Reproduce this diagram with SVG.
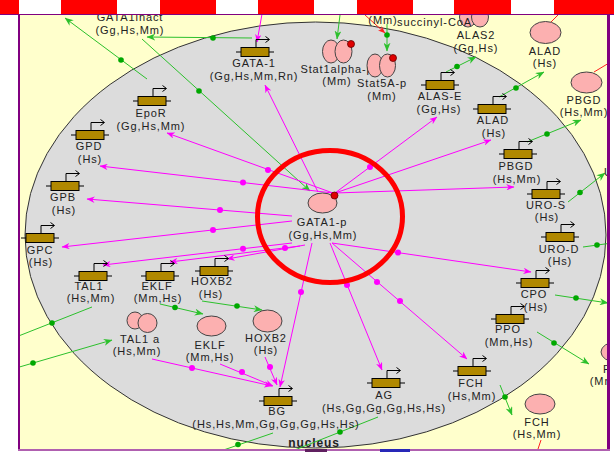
<svg xmlns="http://www.w3.org/2000/svg" width="614" height="452" viewBox="0 0 614 452">
  <defs>
    <style>
      .t { font-family: "Liberation Sans", Arial, sans-serif; font-size: 11px; letter-spacing: 0.9px; fill: #222; text-anchor: middle; }
      .ts { text-anchor: start; }
      .nuc { font-family: "Liberation Sans", Arial, sans-serif; font-size: 12px; font-weight: bold; letter-spacing: 0.9px; fill: #222; text-anchor: middle; }
      .mg { stroke: #FF00FF; stroke-width: 1; fill: none; marker-end: url(#am); }
      .gr { stroke: #2CC02C; stroke-width: 1; fill: none; marker-end: url(#ag); }
      .grn { stroke: #2CC02C; stroke-width: 1; fill: none; }
      .rd { stroke: #FF2020; stroke-width: 1; fill: none; }
      .dm { fill: #FF00FF; }
      .dg { fill: #00A800; }
      .p { fill: #FCB0B0; stroke: #444; stroke-width: 1; }
      .pd { fill: #E00000; stroke: #600; stroke-width: 0.8; }
    </style>
    <marker id="am" viewBox="0 0 10 8" refX="9.5" refY="4" markerWidth="8.5" markerHeight="6.5" markerUnits="userSpaceOnUse" orient="auto">
      <path d="M0,0 L10,4 L0,8 L3,4 z" fill="#FF00FF"/>
    </marker>
    <marker id="ag" viewBox="0 0 10 8" refX="9.5" refY="4" markerWidth="9" markerHeight="7" markerUnits="userSpaceOnUse" orient="auto">
      <path d="M0,0 L10,4 L0,8 L3,4 z" fill="#2CC02C"/>
    </marker>
    <marker id="ar" viewBox="0 0 10 8" refX="9.5" refY="4" markerWidth="8" markerHeight="6" markerUnits="userSpaceOnUse" orient="auto">
      <path d="M0,0 L10,4 L0,8 L3,4 z" fill="#FF2020"/>
    </marker>
    <!-- gene glyph: coding box with stubs and a bent transcription-start arrow -->
    <g id="gene">
      <line x1="-19" y1="0" x2="19" y2="0" stroke="#000" stroke-width="1"/>
      <rect x="-14" y="-4.5" width="28" height="9" fill="#B08800" stroke="#000" stroke-width="1"/>
      <path d="M1,-4.5 V-12.5 H14" fill="none" stroke="#000" stroke-width="1"/>
      <path d="M10.5,-15.5 L14.5,-12.5 L10.5,-9.5" fill="none" stroke="#000" stroke-width="1"/>
    </g>
  </defs>

  <!-- canvas -->
  <rect x="0" y="0" width="614" height="452" fill="#fff"/>
  <rect x="19" y="14" width="590" height="436" fill="#FFFFCC"/>

  <!-- nucleus compartment -->
  <g id="nucleus">
    <ellipse cx="315.5" cy="235" rx="290.5" ry="213" fill="#DCDCDC" stroke="#333" stroke-width="1"/>
    <text class="nuc" x="314" y="447">nucleus</text>
  </g>

  <!-- connectors -->
  <g id="connectors">
    <!-- production (green) -->
    <path class="gr" d="M147,79 L65,18"/>
    <circle class="dg" cx="121" cy="60" r="2.8"/>
    <path class="gr" d="M142,39 L310,191"/>
    <circle class="dg" cx="199" cy="91" r="2.8"/>
    <path class="gr" d="M252,38 L147,37"/>
    <circle class="dg" cx="213" cy="38" r="2.8"/>
    <path class="gr" d="M340,15 L337,39"/>
    <path class="gr" d="M387,24 L387,51"/>
    <circle class="dg" cx="387" cy="35" r="2.8"/>
    <path class="gr" d="M446,72 L476,57"/>
    <circle class="dg" cx="457" cy="66.5" r="2.8"/>
    <path class="gr" d="M499,97 L544,72"/>
    <circle class="dg" cx="516" cy="88" r="2.8"/>
    <path class="gr" d="M527,142 L581,120"/>
    <circle class="dg" cx="547" cy="134" r="2.8"/>
    <path class="gr" d="M568,202 L605,173"/>
    <circle class="dg" cx="580" cy="192.5" r="2.8"/>
    <path class="grn" d="M583,247 L612,243"/>
    <circle class="dg" cx="597" cy="245" r="2.8"/>
    <path class="gr" d="M555,295 L608,303"/>
    <circle class="dg" cx="576" cy="298" r="2.8"/>
    <path class="gr" d="M537,332 L589,364"/>
    <circle class="dg" cx="554" cy="343" r="2.8"/>
    <path class="gr" d="M500,385 L512,415"/>
    <circle class="dg" cx="505" cy="397" r="2.8"/>
    <path class="gr" d="M160,304 L203,314"/>
    <circle class="dg" cx="175" cy="307.5" r="2.8"/>
    <path class="gr" d="M202,301 L262,310"/>
    <circle class="dg" cx="237" cy="306" r="2.8"/>
    <path class="grn" d="M92,307 L16,337"/>
    <circle class="dg" cx="52" cy="323" r="2.8"/>
    <path class="gr" d="M16,368 L112,340"/>
    <circle class="dg" cx="33" cy="363" r="2.8"/>
    <path class="grn" d="M273,433 L209,455"/>
    <circle class="dg" cx="238" cy="444.5" r="2.8"/>
    <path class="grn" d="M378,417 L282,455"/>
    <circle class="dg" cx="340" cy="432" r="2.8"/>

    <!-- regulation (red) -->
    <path class="rd" marker-end="url(#ar)" d="M365,15 L385,33"/>
    <path class="rd" d="M551,22 L559,14"/>
    <path class="rd" d="M594,72 L609,63"/>
    <path class="rd" d="M541,440 L537,452"/>

    <!-- transcriptional activation (magenta) -->
    <path class="mg" d="M318,192 L265,85"/>
    <path class="mg" d="M262,14 L257,42"/>
    <path class="mg" d="M333,193 L167,133"/>
    <circle class="dm" cx="268" cy="170" r="3"/>
    <path class="mg" d="M333,193 L100,166"/>
    <circle class="dm" cx="243" cy="182.6" r="3"/>
    <path class="mg" d="M292,216 L87,199"/>
    <circle class="dm" cx="220" cy="210" r="3"/>
    <path class="mg" d="M292,221 L62,247"/>
    <circle class="dm" cx="213" cy="230" r="3"/>
    <path class="mg" d="M292,243 L103,265"/>
    <circle class="dm" cx="243" cy="248.7" r="3"/>
    <path class="mg" d="M300,246 L170,262"/>
    <circle class="dm" cx="285" cy="248" r="3"/>
    <path class="mg" d="M305,245 L227,259"/>
    <path class="mg" d="M312,243 L280,387"/>
    <circle class="dm" cx="301" cy="292" r="3"/>
    <path class="mg" d="M330,243 L382,370"/>
    <circle class="dm" cx="347" cy="285" r="3"/>
    <path class="mg" d="M332,243 L467,359"/>
    <circle class="dm" cx="377" cy="282" r="3"/>
    <circle class="dm" cx="400" cy="301" r="3"/>
    <path class="mg" d="M332,243 L531,272"/>
    <circle class="dm" cx="398" cy="252.5" r="3"/>
    <path class="mg" d="M335,193 L514,187"/>
    <path class="mg" d="M335,193 L491,140"/>
    <path class="mg" d="M335,193 L437,117"/>
    <circle class="dm" cx="370" cy="167" r="3"/>
    <path class="mg" d="M152,359 L272,386"/>
    <circle class="dm" cx="192" cy="368" r="3"/>
    <path class="mg" d="M220,364 L273,386"/>
    <circle class="dm" cx="242" cy="372" r="3"/>
    <path class="mg" d="M265,357 L277,385"/>
    <circle class="dm" cx="270" cy="367" r="3"/>
  </g>

  <!-- genes -->
  <g id="gene-GATA-1"><use href="#gene" x="255" y="52"/><text class="t" x="254" y="67">GATA-1</text><text class="t" x="254" y="80">(Gg,Hs,Mm,Rn)</text></g>
  <g id="gene-EpoR"><use href="#gene" x="152" y="101"/><text class="t" x="151" y="117">EpoR</text><text class="t" x="151" y="130">(Gg,Hs,Mm)</text></g>
  <g id="gene-GPD"><use href="#gene" x="90" y="135"/><text class="t" x="89" y="150">GPD</text><text class="t" x="90" y="163">(Hs)</text></g>
  <g id="gene-GPB"><use href="#gene" x="65" y="186"/><text class="t" x="63" y="201">GPB</text><text class="t" x="64" y="214">(Hs)</text></g>
  <g id="gene-GPC"><use href="#gene" x="40" y="238"/><text class="t" x="40" y="254">GPC</text><text class="t" x="41" y="266">(Hs)</text></g>
  <g id="gene-TAL1"><use href="#gene" x="93" y="276"/><text class="t" x="89" y="290">TAL1</text><text class="t" x="91" y="302">(Hs,Mm)</text></g>
  <g id="gene-EKLF"><use href="#gene" x="160" y="276"/><text class="t" x="157" y="290">EKLF</text><text class="t" x="158" y="302">(Mm,Hs)</text></g>
  <g id="gene-HOXB2"><use href="#gene" x="214" y="271"/><text class="t" x="212" y="285">HOXB2</text><text class="t" x="211" y="298">(Hs)</text></g>
  <g id="gene-BG"><use href="#gene" x="278" y="401"/><text class="t" x="277" y="415">BG</text><text class="t" x="276" y="428">(Hs,Hs,Mm,Gg,Gg,Gg,Hs,Hs)</text></g>
  <g id="gene-AG"><use href="#gene" x="386" y="383"/><text class="t" x="384" y="399">AG</text><text class="t" x="384" y="412">(Hs,Gg,Gg,Gg,Hs,Hs)</text></g>
  <g id="gene-FCH"><use href="#gene" x="472" y="371"/><text class="t" x="471" y="387">FCH</text><text class="t" x="472" y="400">(Hs,Mm)</text></g>
  <g id="gene-PPO"><use href="#gene" x="510" y="319"/><text class="t" x="508" y="333">PPO</text><text class="t" x="509" y="346">(Mm,Hs)</text></g>
  <g id="gene-CPO"><use href="#gene" x="535" y="283"/><text class="t" x="534" y="298">CPO</text><text class="t" x="536" y="311">(Hs)</text></g>
  <g id="gene-URO-D"><use href="#gene" x="560" y="237"/><text class="t" x="559" y="253">URO-D</text><text class="t" x="560" y="265">(Hs)</text></g>
  <g id="gene-URO-S"><use href="#gene" x="546" y="194"/><text class="t" x="546" y="209">URO-S</text><text class="t" x="547" y="221">(Hs)</text></g>
  <g id="gene-PBGD"><use href="#gene" x="518" y="154"/><text class="t" x="516" y="170">PBGD</text><text class="t" x="517" y="183">(Hs,Mm)</text></g>
  <g id="gene-ALAD"><use href="#gene" x="492" y="109"/><text class="t" x="493" y="124">ALAD</text><text class="t" x="494" y="137">(Hs)</text></g>
  <g id="gene-ALAS-E"><use href="#gene" x="440" y="85"/><text class="t" x="440" y="100">ALAS-E</text><text class="t" x="439" y="113">(Gg,Hs)</text></g>

  <!-- proteins and metabolites -->
  <g id="GATA1inact"><text class="t" x="130" y="21">GATA1inact</text><text class="t" x="130" y="34">(Gg,Hs,Mm)</text></g>
  <g id="Stat1alpha-p">
    <ellipse class="p" cx="331" cy="51.5" rx="8.5" ry="11.5"/>
    <ellipse class="p" cx="343.5" cy="51.5" rx="8.5" ry="11.5"/>
    <circle class="pd" cx="351" cy="44" r="3.5"/>
    <text class="t" x="337" y="73">Stat1alpha-p</text><text class="t" x="337" y="85">(Mm)</text>
  </g>
  <g id="Stat5A-p">
    <ellipse class="p" cx="375" cy="65.5" rx="8" ry="11.5"/>
    <ellipse class="p" cx="387.5" cy="65.5" rx="8" ry="11.5"/>
    <circle class="pd" cx="393" cy="58" r="3.5"/>
    <text class="t" x="382" y="87">Stat5A-p</text><text class="t" x="382" y="100">(Mm)</text>
  </g>
  <g id="ALAS2">
    <ellipse class="p" cx="468" cy="17" rx="8.5" ry="10"/>
    <ellipse class="p" cx="480" cy="17" rx="8.5" ry="10"/>
    <text class="t" x="476" y="39">ALAS2</text><text class="t" x="476" y="52">(Gg,Hs)</text>
  </g>
  <g id="Mm-label"><text class="t" x="383" y="24">(Mm)</text></g>
  <g id="succinyl-CoA"><text class="t ts" x="397" y="26">succinyl-CoA</text></g>
  <g id="ALAD"><ellipse class="p" cx="545.5" cy="32.5" rx="15.5" ry="11"/><text class="t" x="545" y="55">ALAD</text><text class="t" x="545" y="67">(Hs)</text></g>
  <g id="PBGD"><ellipse class="p" cx="586.5" cy="82.5" rx="15.5" ry="10.5"/><text class="t" x="584" y="104">PBGD</text><text class="t" x="584" y="116">(Hs,Mm)</text></g>
  <g id="URO-S"><text class="t ts" x="604" y="176">URO-S</text></g>
  <g id="PPO"><ellipse class="p" cx="616" cy="352" rx="15" ry="10"/><text class="t" x="616" y="373">PPO</text><text class="t" x="614" y="385">(Mm,Hs)</text></g>
  <g id="FCH"><ellipse class="p" cx="540" cy="404" rx="15" ry="10"/><text class="t" x="537" y="426">FCH</text><text class="t" x="537" y="438">(Hs,Mm)</text></g>
  <g id="EKLF"><ellipse class="p" cx="211.5" cy="326" rx="14.5" ry="10"/><text class="t" x="210" y="349">EKLF</text><text class="t" x="210" y="361">(Mm,Hs)</text></g>
  <g id="HOXB2"><ellipse class="p" cx="267.5" cy="321" rx="14.5" ry="11"/><text class="t" x="266" y="342">HOXB2</text><text class="t" x="266" y="354">(Hs)</text></g>
  <g id="TAL1a">
    <ellipse class="p" cx="135" cy="320.5" rx="8" ry="8.5"/>
    <ellipse class="p" cx="147.5" cy="323" rx="9.5" ry="9.5"/>
    <text class="t" x="140" y="343">TAL1 a</text><text class="t" x="137" y="355">(Hs,Mm)</text>
  </g>
  <g id="GATA1-p">
    <ellipse class="p" cx="322.5" cy="203" rx="14.5" ry="10"/>
    <circle class="pd" cx="334.5" cy="195.5" r="3.5"/>
    <text class="t" x="322" y="226">GATA1-p</text><text class="t" x="323" y="238.5">(Gg,Hs,Mm)</text>
  </g>

  <!-- highlight ring -->
  <ellipse id="highlight" cx="330" cy="216.5" rx="72.5" ry="66" fill="none" stroke="#FF0000" stroke-width="5"/>

  <!-- frame -->
  <g id="frame">
    <rect x="0" y="0" width="19" height="452" fill="#fff"/>
    <rect x="609" y="0" width="5" height="452" fill="#fff"/>
    <rect x="0" y="450" width="614" height="2" fill="#fff"/>
    <rect x="18" y="14" width="2" height="437" fill="#800080"/>
    <rect x="607" y="14" width="3" height="437" fill="#800080"/>
    <rect x="18" y="449" width="592" height="2" fill="#B060B0"/>
    <rect x="305" y="449" width="22" height="3" fill="#602060"/>
    <rect x="380" y="449" width="30" height="3" fill="#2828B8"/>
    <rect x="0" y="13.5" width="614" height="1.5" fill="#800080"/>
    <rect x="0" y="0" width="614" height="14" fill="#FF0000"/>
    <rect x="19" y="0" width="42" height="14" fill="#fff"/>
    <rect x="117" y="0" width="43" height="14" fill="#fff"/>
    <rect x="216" y="0" width="42" height="14" fill="#fff"/>
    <rect x="314" y="0" width="43" height="14" fill="#fff"/>
    <rect x="413" y="0" width="41" height="14" fill="#fff"/>
    <rect x="511" y="0" width="43" height="14" fill="#fff"/>
  </g>
</svg>
